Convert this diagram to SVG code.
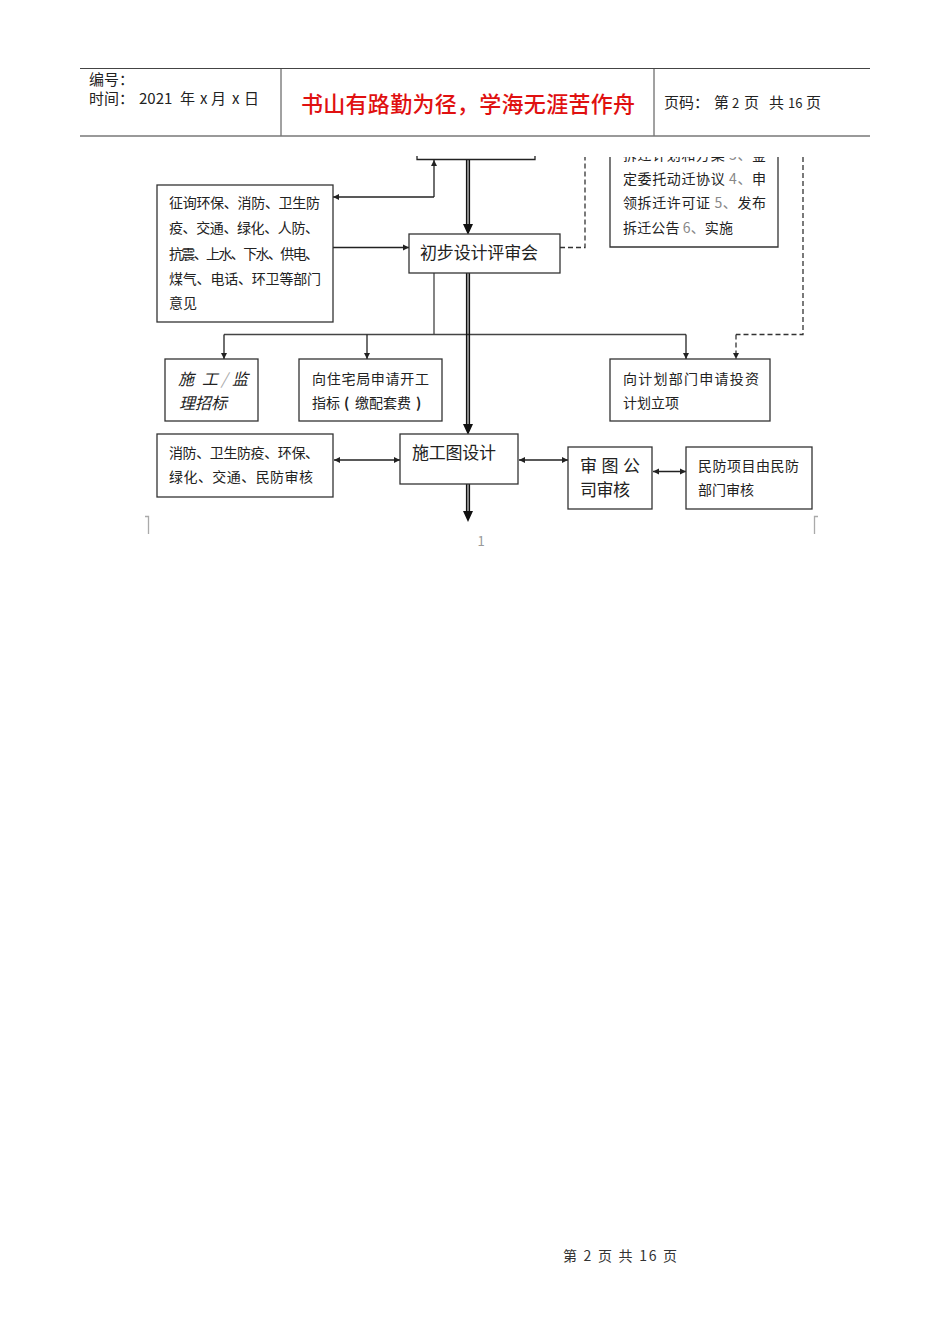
<svg xmlns="http://www.w3.org/2000/svg" width="950" height="1344" viewBox="0 0 950 1344">
<style>
text{font-family:"Noto Sans CJK SC","Noto Sans",sans-serif;fill:#222}
.t{font-size:14px}
.b{font-size:17px}
.h{font-size:15px}
.box{fill:#fff;stroke:#333;stroke-width:1.3}
.ln{fill:none;stroke:#222;stroke-width:1.3}
.gr{fill:none;stroke:#444;stroke-width:1.3}
.da{fill:none;stroke:#333;stroke-width:1.3;stroke-dasharray:5 3}
.dbl{fill:none;stroke:#111;stroke-width:1.6}
.dim{fill:#888}
.hd{stroke:#444;stroke-width:1;fill:none}
.crop{fill:none;stroke:#aaa;stroke-width:1.3}
.it{font-size:16px;font-style:italic}
</style>
<defs>
<marker id="a" markerUnits="userSpaceOnUse" markerWidth="8" markerHeight="8" refX="7" refY="4" orient="auto-start-reverse"><path d="M1 1L7 4L1 7z" fill="#222"/></marker>
<clipPath id="cut"><rect x="600" y="157" width="190" height="100"/></clipPath>
</defs>
<rect width="950" height="1344" fill="#fff"/>
<g id="header">
<path class="hd" d="M80 68.5H870M281 68.5V136M654 68.5V136"/>
<path d="M80 136H870" stroke="#777" stroke-width="1.6" fill="none"/>
<text class="h" x="89" y="85">编号：</text>
<text class="h" x="89" y="104">时间：<tspan x="139">2021</tspan><tspan x="180">年</tspan><tspan x="200">x</tspan><tspan x="211">月</tspan><tspan x="232">x</tspan><tspan x="244">日</tspan></text>
<text x="301" y="112" font-size="22" font-weight="500" style="fill:#e01010" textLength="334" lengthAdjust="spacing">书山有路勤为径，学海无涯苦作舟</text>
<text class="h" x="664" y="108">页码：<tspan x="714">第</tspan><tspan x="732" font-size="13">2</tspan><tspan x="744">页</tspan><tspan x="769">共</tspan><tspan x="788" font-size="13">16</tspan><tspan x="806">页</tspan></text>
</g>
<g id="connectors">
<path class="ln" d="M417 156V159.5H535V156"/>
<path class="ln" d="M434 197H333" marker-end="url(#a)"/>
<path class="ln" d="M434 197V160" marker-end="url(#a)"/>
<path class="ln" d="M333 247.5H409" marker-end="url(#a)"/>
<path class="gr" d="M434 273V334.5M224 334.5H686"/>
<path class="ln" d="M224 334.5V359" marker-end="url(#a)"/>
<path class="ln" d="M367 334.5V359" marker-end="url(#a)"/>
<path class="ln" d="M686 334.5V359" marker-end="url(#a)"/>
<path class="ln" d="M334 460H400" marker-start="url(#a)" marker-end="url(#a)"/>
<path class="ln" d="M519 460H568" marker-start="url(#a)" marker-end="url(#a)"/>
<path class="ln" d="M653 471.5H686" marker-start="url(#a)" marker-end="url(#a)"/>
<path class="da" d="M560 247.5H585V157"/>
<path class="da" d="M803 157V334.5H736"/>
<path class="da" d="M736 334.5V359" marker-end="url(#a)"/>
<path class="dbl" d="M466.7 160V225M469.3 160V225M466.7 273V425M469.3 273V425M466.7 484V513M469.3 484V513"/>
<path d="M463 224H473L468 235zM463 424H473L468 435zM463 511H473L468 522z" fill="#111"/>
</g>
<g id="n-consult">
<rect class="box" x="157" y="185" width="176" height="137"/>
<text class="t" x="169" y="208" textLength="151" lengthAdjust="spacing">征询环保、消防、卫生防</text>
<text class="t" x="169" y="233" textLength="150" lengthAdjust="spacing">疫、交通、绿化、人防、</text>
<text class="t" x="169" y="259" textLength="150" lengthAdjust="spacing">抗震、上水、下水、供电、</text>
<text class="t" x="169" y="284" textLength="152" lengthAdjust="spacing">煤气、电话、环卫等部门</text>
<text class="t" x="169" y="308">意见</text>
</g>
<g id="n-review">
<rect class="box" x="409" y="234" width="151" height="39"/>
<text class="b" x="420" y="259" textLength="118" lengthAdjust="spacing">初步设计评审会</text>
</g>
<g id="n-demolition">
<path class="box" d="M610 157V247H778V157"/>
<g clip-path="url(#cut)"><text class="t" x="623" y="160" textLength="143" lengthAdjust="spacing">拆迁计划和方案 <tspan class="dim">3、</tspan>鉴</text></g>
<text class="t" x="623" y="184" textLength="143" lengthAdjust="spacing">定委托动迁协议 <tspan class="dim">4、</tspan>申</text>
<text class="t" x="623" y="208" textLength="143" lengthAdjust="spacing">领拆迁许可证 <tspan class="dim">5、</tspan>发布</text>
<text class="t" x="623" y="233" textLength="110" lengthAdjust="spacing">拆迁公告 <tspan class="dim">6、</tspan>实施</text>
</g>
<g id="n-tender">
<rect class="box" x="165" y="359" width="93" height="62"/>
<text class="it" x="178" y="385">施<tspan x="202">工</tspan><tspan x="221" style="fill:#aaa">/</tspan><tspan x="232">监</tspan></text>
<text class="it" x="179" y="409">理招标</text>
</g>
<g id="n-housing">
<rect class="box" x="299" y="359" width="143" height="62"/>
<text class="t" x="312" y="384" textLength="117" lengthAdjust="spacing">向住宅局申请开工</text>
<text class="t" x="312" y="408">指标<tspan x="344" font-weight="700">(</tspan><tspan x="355">缴配套费</tspan><tspan x="416" font-weight="700">)</tspan></text>
</g>
<g id="n-plan">
<rect class="box" x="610" y="359" width="160" height="62"/>
<text class="t" x="623" y="384" textLength="136" lengthAdjust="spacing">向计划部门申请投资</text>
<text class="t" x="623" y="408">计划立项</text>
</g>
<g id="n-fire">
<rect class="box" x="157" y="434" width="176" height="63"/>
<text class="t" x="169" y="458" textLength="150" lengthAdjust="spacing">消防、卫生防疫、环保、</text>
<text class="t" x="169" y="482" textLength="144" lengthAdjust="spacing">绿化、交通、民防审核</text>
</g>
<g id="n-drawing">
<rect class="box" x="400" y="434" width="118" height="50"/>
<text class="b" x="412" y="459" font-size="16" textLength="84" lengthAdjust="spacing">施工图设计</text>
</g>
<g id="n-audit">
<rect class="box" x="568" y="447" width="84" height="62"/>
<text class="b" x="580" y="472" font-size="16" textLength="60" lengthAdjust="spacing">审 图 公</text>
<text class="b" x="580" y="496" font-size="16" textLength="50" lengthAdjust="spacing">司审核</text>
</g>
<g id="n-civil">
<rect class="box" x="686" y="447" width="126" height="62"/>
<text class="t" x="698" y="471" textLength="101" lengthAdjust="spacing">民防项目由民防</text>
<text class="t" x="698" y="495">部门审核</text>
</g>
<g id="page-scan">
<path class="crop" d="M145 516.5H148.5V534"/>
<path class="crop" d="M818 516.5H814.5V534"/>
<text x="481" y="546" font-size="13" style="fill:#999" text-anchor="middle">1</text>
</g>
<g id="footer">
<text x="563" y="1261" font-size="14" style="fill:#333" textLength="114" lengthAdjust="spacing">第 2 页 共 16 页</text>
</g>
</svg>
